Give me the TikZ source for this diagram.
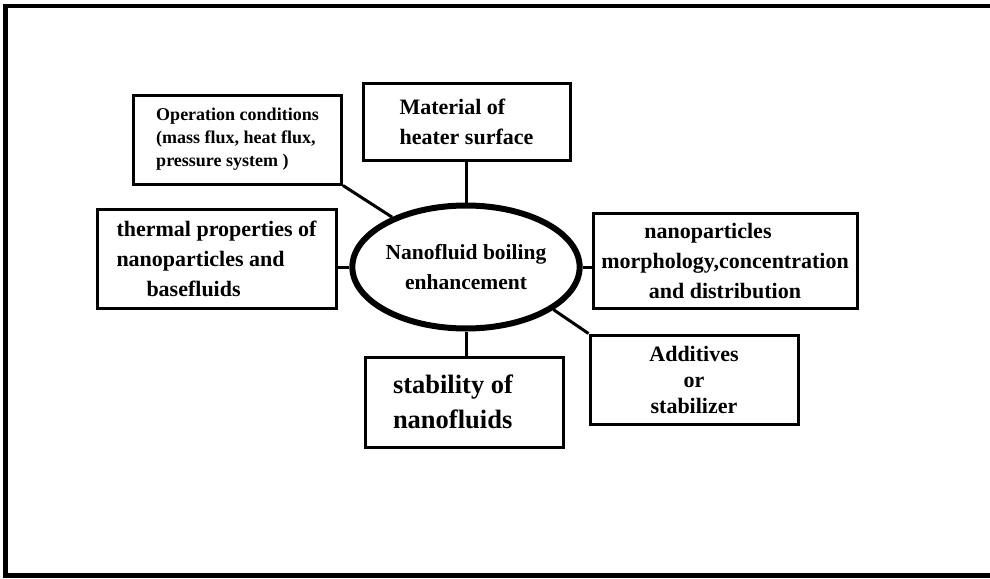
\documentclass[tikz,border=0pt]{standalone}
\usepackage{fontspec}
\setmainfont{Liberation Serif}
\usepackage{tikz}
\usetikzlibrary{shapes.geometric,positioning}
\tikzset{fbox/.style={rectangle,draw,line width=3pt,inner sep=0pt,font=\bfseries\fontsize{22}{30}\selectfont}}
\tikzset{hub/.style={ellipse,draw,line width=6pt,inner sep=0pt,minimum width=201pt,minimum height=123pt,align=center,font=\bfseries\fontsize{21.5}{30}\selectfont}}

\begin{document}
\begin{tikzpicture}[x=1pt,y=-1pt,line width=3pt]
    \clip (0,0) rectangle (990,578);
    \draw[line width=4.5pt] (5.5,6) rectangle (1000,575.5);

    \node[hub] (ell) at (466,267) {Nanofluid boiling\\enhancement};
    \node[fbox,minimum width=207pt,minimum height=77pt,align=left] (mat) at (466.5,121.5) {Material of\\heater surface};
    \node[fbox,minimum width=208pt,minimum height=89pt,align=left,font=\bfseries\fontsize{18}{23}\selectfont] (oper) at (237.5,139.5) {Operation conditions\\(mass flux, heat flux,\\pressure system )};
    \node[fbox,minimum width=239pt,minimum height=99pt,align=left] (therm) at (216.5,258.5) {thermal properties of\\nanoparticles and\\\hspace*{30pt}basefluids};
    \node[fbox,minimum width=264pt,minimum height=95pt,align=center] (nano) at (725,260.5) {nanoparticles\hspace*{34pt}\\morphology,concentration\\and distribution};
    \node[fbox,minimum width=208pt,minimum height=89pt,align=center,font=\bfseries\fontsize{22}{26}\selectfont] (add) at (694,379.5) {Additives\\or\\stabilizer};
    \node[fbox,minimum width=198pt,minimum height=90pt,align=left,font=\bfseries\fontsize{26.5}{35}\selectfont] (stab) at (464,402) {stability of\hspace*{22pt}\\nanofluids};

    \draw [] (ell.north) -- (ell.north |- mat.south);
    \draw [] (ell.south) -- (ell.south |- stab.north);
    \draw [] (ell.west) -- (ell.west -| therm.east);
    \draw [] (ell.east) -- (ell.east -| nano.west);
    \draw [] (oper.south east) -- (ell.146);
    \draw [] (ell.-26) -- (add.north west);
\end{tikzpicture}
\end{document}
